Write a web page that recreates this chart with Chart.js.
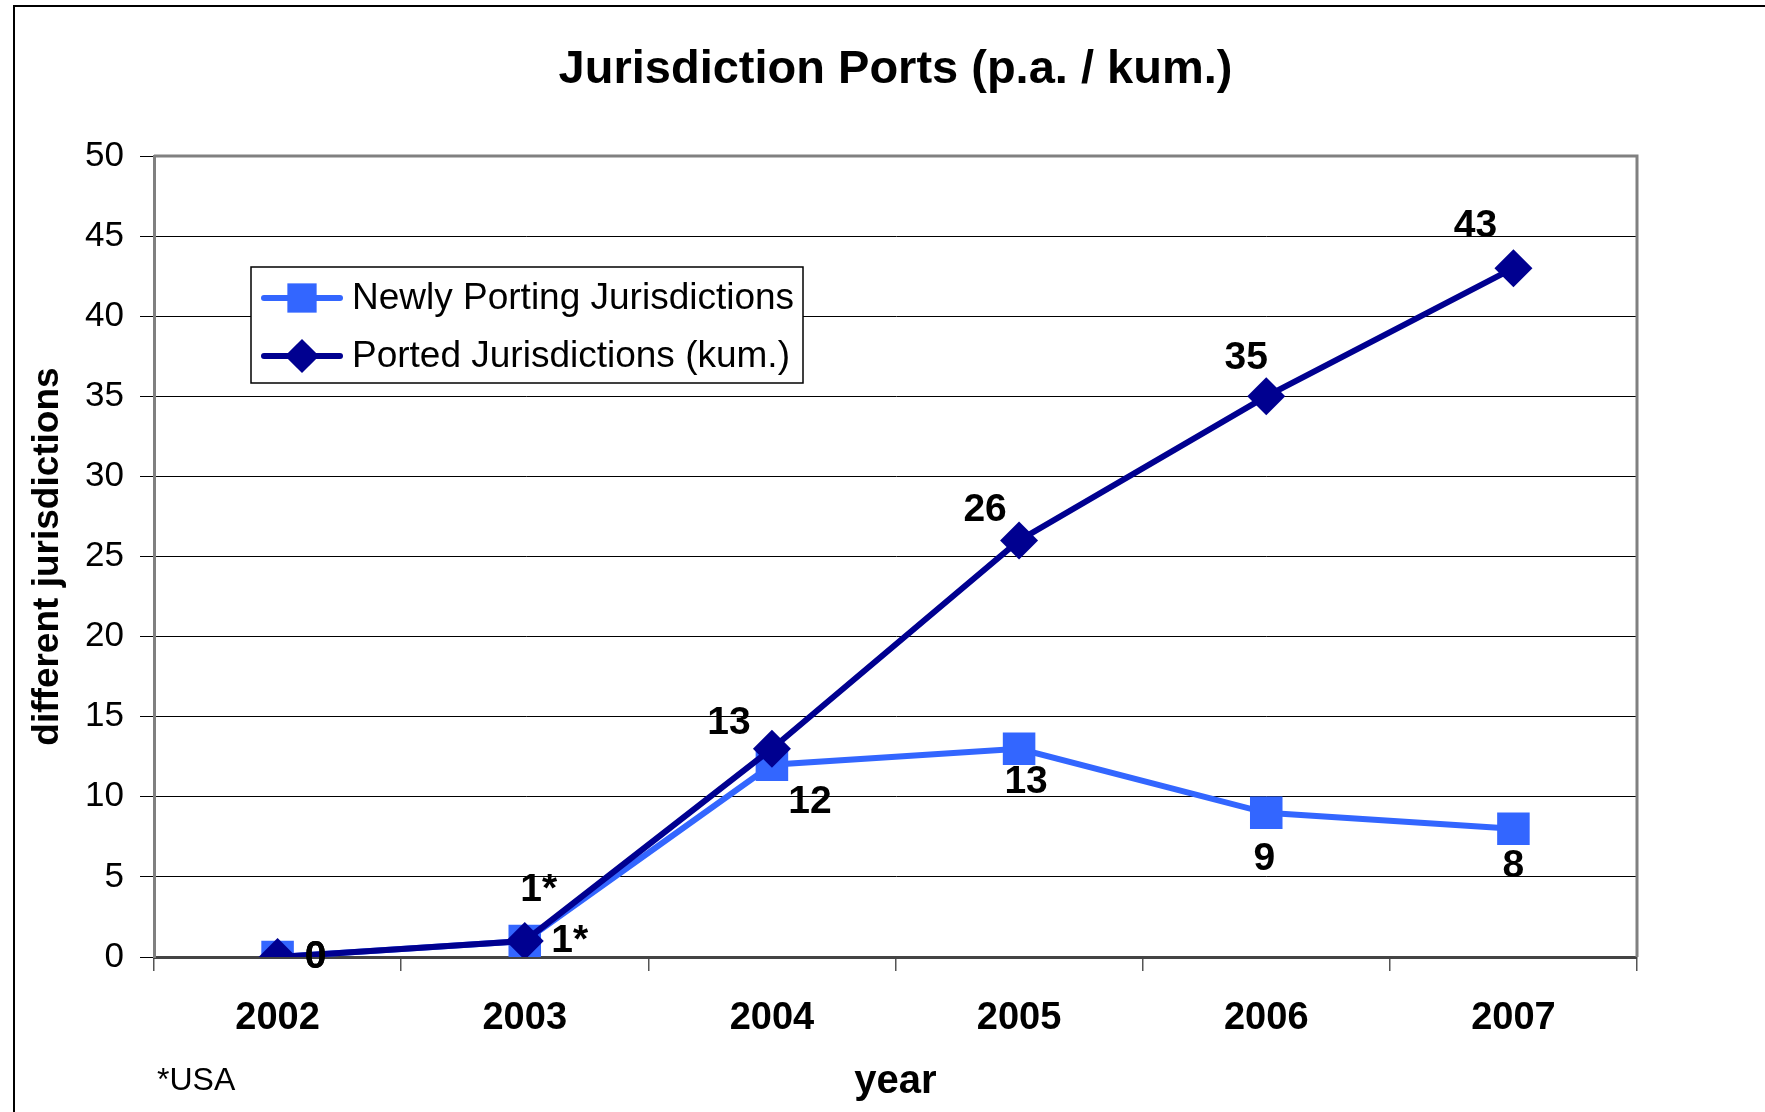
<!DOCTYPE html>
<html>
<head>
<meta charset="utf-8">
<title>Jurisdiction Ports</title>
<script src="https://cdn.jsdelivr.net/npm/chart.js@4.4.1/dist/chart.umd.min.js"></script>
<style>
  html, body { margin: 0; padding: 0; background: #fff; }
  canvas { display: block; }
</style>
</head>
<body>
<canvas id="portsChart" width="1765" height="1112"></canvas>
<script>
// data
const years = ['2002', '2003', '2004', '2005', '2006', '2007'];
const newlyPorting = [0, 1, 12, 13, 9, 8];
const portedCum = [0, 1, 13, 26, 35, 43];
const newlyLabels = ['0', '1*', '12', '13', '9', '8'];
const portedLabels = ['0', '1*', '13', '26', '35', '43'];
const yTicks = [0, 5, 10, 15, 20, 25, 30, 35, 40, 45, 50];

const NARROW = "'Liberation Sans Narrow', 'Arial Narrow', 'Liberation Sans', Arial, sans-serif";
const ARIAL = "'Liberation Sans', Arial, sans-serif";

// where each value label sits relative to its point (px)
const labelOffsets = {
  newly: [[38, 0], [45, 0], [38, 37], [7, 34], [-2, 46], [0, 37]],
  ported: [[38, 0], [14, -51], [-43, -25], [-34, -30], [-20, -38], [-38, -42]]
};

// frame round the whole picture (top and left edges), plot border, title, footnote
const framePlugin = {
  id: 'frame',
  beforeDraw(chart) {
    const ctx = chart.ctx;
    ctx.save();
    ctx.fillStyle = '#fff';
    ctx.fillRect(0, 0, chart.width, chart.height);
    ctx.strokeStyle = '#000';
    ctx.lineWidth = 2;
    ctx.beginPath();
    ctx.moveTo(14, chart.height);
    ctx.lineTo(14, 6);
    ctx.lineTo(chart.width, 6);
    ctx.stroke();
    ctx.restore();
  },
  afterDraw(chart) {
    const { ctx, chartArea: a } = chart;
    ctx.save();
    ctx.strokeStyle = '#808080';
    ctx.lineWidth = 3;
    ctx.beginPath();
    ctx.moveTo(a.left, a.top);
    ctx.lineTo(a.right, a.top);
    ctx.lineTo(a.right, a.bottom);
    ctx.stroke();
    ctx.fillStyle = '#000';
    ctx.textBaseline = 'middle';
    ctx.textAlign = 'center';
    ctx.font = 'bold 47px ' + NARROW;
    ctx.fillText('Jurisdiction Ports (p.a. / kum.)', (a.left + a.right) / 2, 70);
    ctx.font = '32px ' + NARROW;
    ctx.textAlign = 'left';
    ctx.fillText('*USA', 157, 1081);
    ctx.restore();
  }
};

// value labels next to the points
const valueLabelPlugin = {
  id: 'valueLabels',
  afterDatasetsDraw(chart) {
    const ctx = chart.ctx;
    ctx.save();
    ctx.fillStyle = '#000';
    ctx.font = 'bold 39px ' + NARROW;
    ctx.textAlign = 'center';
    ctx.textBaseline = 'middle';
    chart.data.datasets.forEach((ds, i) => {
      const meta = chart.getDatasetMeta(i);
      const offs = labelOffsets[ds.key];
      meta.data.forEach((pt, j) => {
        ctx.fillText(ds.valueLabels[j], pt.x + offs[j][0], pt.y + offs[j][1]);
      });
    });
    ctx.restore();
  }
};

// legend box inside the plot
const boxLegendPlugin = {
  id: 'boxLegend',
  afterDraw(chart) {
    const ctx = chart.ctx;
    const box = { x: 251, y: 267, w: 552, h: 116 };
    ctx.save();
    ctx.fillStyle = '#fff';
    ctx.fillRect(box.x, box.y, box.w, box.h);
    ctx.strokeStyle = '#000';
    ctx.lineWidth = 1.5;
    ctx.strokeRect(box.x, box.y, box.w, box.h);
    chart.data.datasets.forEach((ds, i) => {
      const cy = box.y + 31 + i * 58;
      ctx.strokeStyle = ds.borderColor;
      ctx.lineWidth = 6;
      ctx.lineCap = 'round';
      ctx.beginPath();
      ctx.moveTo(264, cy);
      ctx.lineTo(340, cy);
      ctx.stroke();
      ctx.fillStyle = ds.pointBackgroundColor;
      Chart.helpers.drawPoint(ctx, {
        pointStyle: ds.pointStyle,
        radius: ds.pointRadius * 0.9,
        borderWidth: 0,
        rotation: 0
      }, 302, cy);
      ctx.fillStyle = '#000';
      ctx.font = '37px ' + ARIAL;
      ctx.textAlign = 'left';
      ctx.textBaseline = 'middle';
      ctx.fillText(ds.label, 352, cy + 1);
    });
    ctx.restore();
  }
};

new Chart(document.getElementById('portsChart'), {
  type: 'line',
  data: {
    labels: years,
    datasets: [{
      key: 'newly',
      label: 'Newly Porting Jurisdictions',
      data: newlyPorting,
      valueLabels: newlyLabels,
      borderColor: '#3366ff',
      backgroundColor: '#3366ff',
      pointBackgroundColor: '#3366ff',
      pointBorderColor: '#3366ff',
      borderWidth: 6,
      pointStyle: 'rect',
      pointRadius: 23,
      pointBorderWidth: 0,
      tension: 0,
      order: 2
    }, {
      key: 'ported',
      label: 'Ported Jurisdictions (kum.)',
      data: portedCum,
      valueLabels: portedLabels,
      borderColor: '#000090',
      backgroundColor: '#000090',
      pointBackgroundColor: '#000090',
      pointBorderColor: '#000090',
      borderWidth: 6,
      pointStyle: 'rectRot',
      pointRadius: 19,
      pointBorderWidth: 0,
      tension: 0,
      order: 1
    }]
  },
  options: {
    responsive: false,
    animation: false,
    devicePixelRatio: 1,
    layout: { padding: { top: 156, left: 0, right: 128, bottom: 0 } },
    plugins: {
      legend: { display: false },
      tooltip: { enabled: false },
      title: { display: false }
    },
    scales: {
      x: {
        offset: true,
        grid: {
          offset: true,
          drawOnChartArea: false,
          drawTicks: true,
          tickLength: 14,
          color: '#555',
          lineWidth: 1.5
        },
        border: { display: true, color: '#444', width: 3 },
        ticks: {
          color: '#000',
          padding: 25,
          font: { family: NARROW, size: 38, weight: 'bold' }
        },
        title: {
          display: true,
          text: 'year',
          color: '#000',
          font: { family: NARROW, size: 40, weight: 'bold' },
          padding: { top: 0, bottom: 6 }
        },
        afterFit(scale) { scale.height = 155; }
      },
      y: {
        min: 0,
        max: 50,
        afterBuildTicks(scale) { scale.ticks = yTicks.map(v => ({ value: v })); },
        grid: {
          color: '#000',
          lineWidth: 1,
          drawTicks: true,
          tickLength: 14,
          tickColor: '#000'
        },
        border: { display: true, color: '#808080', width: 3 },
        ticks: {
          color: '#000',
          padding: 16,
          font: { family: ARIAL, size: 35 }
        },
        title: {
          display: true,
          text: 'different jurisdictions',
          color: '#000',
          font: { family: NARROW, size: 37, weight: 'bold' },
          padding: { top: 26, bottom: 0 }
        },
        afterFit(scale) { scale.width = 154; }
      }
    }
  },
  plugins: [framePlugin, valueLabelPlugin, boxLegendPlugin]
});
</script>
</body>
</html>
